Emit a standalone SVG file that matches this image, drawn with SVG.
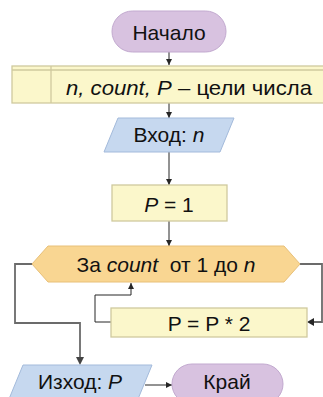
<svg xmlns="http://www.w3.org/2000/svg" width="323" height="397" viewBox="0 0 323 397">
<defs>
<marker id="ah" viewBox="0 0 8 8" refX="8" refY="4" markerWidth="6" markerHeight="6" markerUnits="userSpaceOnUse" orient="auto">
<path d="M0,0 L8,4 L0,8 z" fill="#262626"/>
</marker>
<style>
.term{fill:#D8C2E0;stroke:#C2A9CF;stroke-width:1}
.decl{fill:#FBF7CB;stroke:#CFCA9E;stroke-width:1.3}
.io{fill:#C6D8EF;stroke:#A3BADB;stroke-width:1}
.proc{fill:#FBF7CB;stroke:#CFCA9E;stroke-width:1.3}
.loop{fill:#F9D692;stroke:#E8C079;stroke-width:1}
.t{font-family:"Liberation Sans",Arial,sans-serif;font-size:21px;fill:#111;text-anchor:middle;white-space:pre}
.i{font-style:italic}
.c{fill:none;stroke:#262626;stroke-width:1}
.g{fill:none;stroke:#6b6b6b;stroke-width:1.8}
</style>
</defs>
<g id="connectors">
<line class="c" x1="169" y1="52" x2="169" y2="65" marker-end="url(#ah)"/>
<line class="c" x1="169" y1="103" x2="169" y2="118" marker-end="url(#ah)"/>
<line class="c" x1="169" y1="152" x2="169" y2="185" marker-end="url(#ah)"/>
<line class="c" x1="169" y1="221" x2="169" y2="246" marker-end="url(#ah)"/>
<polyline class="g" points="32,264 15,264 15,323 80,323 80,358"/>
<path d="M76,357 L80,365 L84,357 z" fill="#444"/>
<polyline class="g" points="300,264 322,264 322,322 314,322"/>
<path d="M314,318 L307,322 L314,326 z" fill="#262626"/>
<polyline class="c" points="111,322 95,322 95,295 131,295 131,283" marker-end="url(#ah)"/>
<line class="c" x1="145" y1="385" x2="172" y2="385" marker-end="url(#ah)"/>
</g>
<g id="start">
<rect class="term" x="112" y="11" width="114" height="41" rx="20.5"/>
<text class="t" x="169" y="40">Начало</text>
</g>
<g id="declaration">
<rect class="decl" x="12" y="66" width="320" height="37"/>
<line class="decl" x1="12" y1="70" x2="332" y2="70"/>
<line class="decl" x1="51" y1="66" x2="51" y2="103"/>
<text class="t" x="189" y="95" textLength="246" lengthAdjust="spacingAndGlyphs"><tspan class="i">n, count, P</tspan> – цели числа</text>
</g>
<g id="input">
<polygon class="io" points="118,118 234,118 220,152 104,152"/>
<text class="t" x="169" y="142">Вход: <tspan class="i">n</tspan></text>
</g>
<g id="init">
<rect class="proc" x="112" y="185" width="115" height="36"/>
<text class="t" x="169" y="212"><tspan class="i">P</tspan> = 1</text>
</g>
<g id="loop">
<polygon class="loop" points="32,264 48,246 284,246 300,264 284,282 48,282"/>
<text class="t" x="166" y="272" xml:space="preserve">За <tspan class="i">count</tspan>  от 1 до <tspan class="i">n</tspan></text>
</g>
<g id="body">
<rect class="proc" x="111" y="308" width="196" height="29"/>
<text class="t" x="209" y="331">P = P * 2</text>
</g>
<g id="output">
<polygon class="io" points="23,365 152,365 138,399 9,399"/>
<text class="t" x="80" y="389">Изход: <tspan class="i">P</tspan></text>
</g>
<g id="end">
<rect class="term" x="172" y="364" width="111" height="40" rx="20"/>
<text class="t" x="227" y="389">Край</text>
</g>
</svg>
